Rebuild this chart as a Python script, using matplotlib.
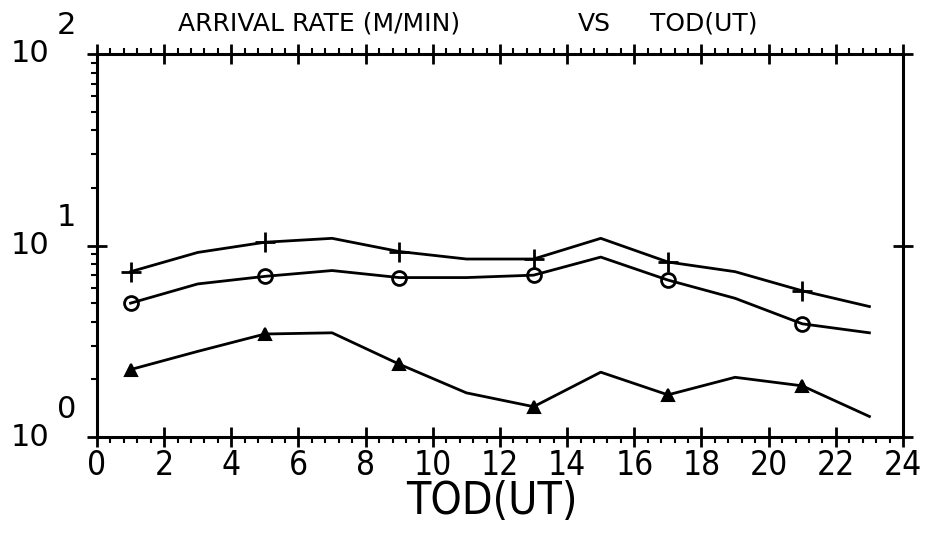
import matplotlib
matplotlib.use('Agg')
import matplotlib.pyplot as plt
import matplotlib.transforms as mtransforms
from matplotlib.ticker import MultipleLocator, LogLocator, NullFormatter
import numpy as np

# hours (UT), samples every 2 hours
tod = [1, 3, 5, 7, 9, 11, 13, 15, 17, 19, 21, 23]
# arrival rates (meteors / min)
rate_plus = [7.3, 9.2, 10.4, 10.9, 9.3, 8.5, 8.5, 10.9, 8.2, 7.3, 5.8, 4.8]
rate_circ = [5.0, 6.3, 6.9, 7.4, 6.8, 6.8, 7.0, 8.7, 6.6, 5.3, 3.9, 3.5]
rate_tri = [2.25, 2.8, 3.45, 3.5, 2.4, 1.7, 1.44, 2.18, 1.66, 2.05, 1.85, 1.28]

xticks = list(range(0, 25, 2))
ydecades = [1, 10, 100]
ydecade_exp = ['0', '1', '2']

plt.rcParams['font.family'] = ['DejaVu Sans']

fig = plt.figure(figsize=(9.28, 5.35), dpi=100)
ax = fig.add_axes([97/928, 1-437/535, (903-97)/928, (437-54)/535])

ax.set_yscale('log')
ax.set_xlim(0, 24)
ax.set_ylim(1, 100)

ax.plot(tod, rate_plus, color='black', lw=2, marker='+', ms=14, mew=2, markevery=2)
ax.plot(tod, rate_circ, color='black', lw=2, marker='o', ms=10, mew=2, mfc='none', markevery=2)
ax.plot(tod, rate_tri, color='black', lw=2, marker='^', ms=9, mew=1.5, mfc='black', markevery=2)

for s in ax.spines.values():
    s.set_linewidth(2.2)

ax.set_xticks(xticks)
ax.xaxis.set_minor_locator(MultipleLocator(0.4))
ax.set_yticks(ydecades)
ax.yaxis.set_minor_locator(LogLocator(base=10, subs=np.arange(2, 10)))
ax.yaxis.set_minor_formatter(NullFormatter())
ax.set_yticklabels(['']*3)

ax.tick_params(axis='x', which='major', direction='inout', length=15, width=2,
               top=True, bottom=True, labelsize=24, pad=1)
ax.tick_params(axis='x', which='minor', direction='out', length=4, width=1.5,
               top=True, bottom=True)
ax.tick_params(axis='y', which='major', direction='inout', length=15, width=2,
               left=True, right=True)
ax.tick_params(axis='y', which='minor', direction='out', length=4, width=1.5,
               left=True, right=False)
for lab in ax.get_xticklabels():
    lab.set_fontstretch('condensed')

ax.set_xlabel('TOD(UT)', fontsize=32, fontstretch='condensed')
ax.xaxis.set_label_coords(0.49, -(502-437)/383)
ax.xaxis.label.set_va('center')

# y decade labels written as 10 with raised exponent
trans = mtransforms.blended_transform_factory(fig.transFigure, ax.transData)
for v, e in zip(ydecades, ydecade_exp):
    ax.text(49/928, v, '10', transform=trans, ha='right', va='center', fontsize=22, clip_on=False)
    off = mtransforms.offset_copy(trans, fig=fig, x=0, y=28, units='dots')
    ax.text(57/928, v, e, transform=off, ha='left', va='center', fontsize=22, clip_on=False)

fig.text(178/928, 1-24/535, 'ARRIVAL RATE (M/MIN)', ha='left', va='center', fontsize=18)
fig.text(578/928, 1-24/535, 'VS', ha='left', va='center', fontsize=18)
fig.text(650/928, 1-24/535, 'TOD(UT)', ha='left', va='center', fontsize=18)

fig.savefig('out.png', dpi=100)
